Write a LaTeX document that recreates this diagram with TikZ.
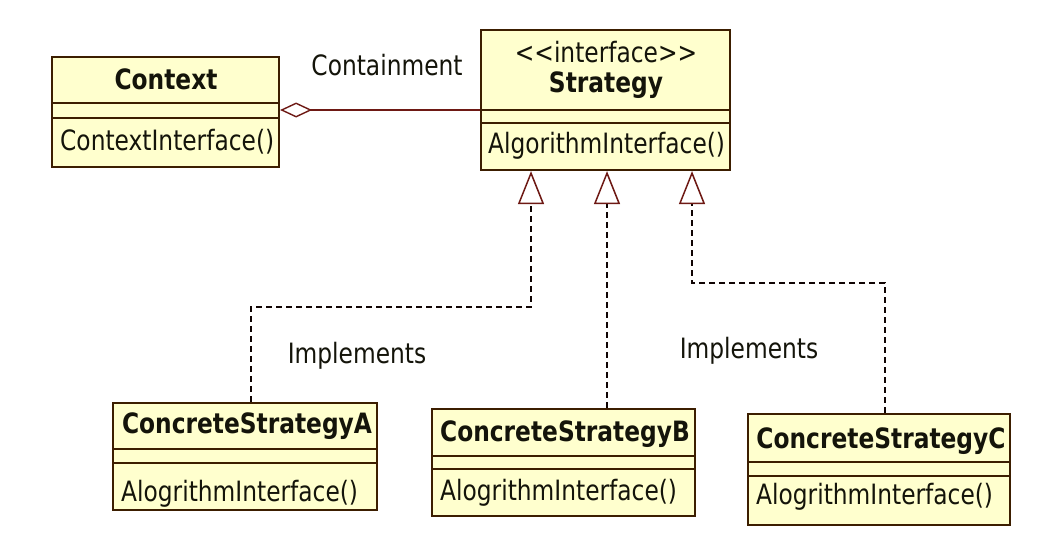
\documentclass[tikz,border=0pt]{standalone}
\usepackage{fontspec}
\setmainfont{DejaVu Sans}[FakeStretch=0.833]
\usetikzlibrary{arrows.meta}
\definecolor{boxfill}{RGB}{255,255,206}
\definecolor{boxline}{RGB}{60,30,0}
\definecolor{conn}{RGB}{110,25,20}
\definecolor{ink}{RGB}{20,20,10}
\begin{document}
\begin{tikzpicture}[x=1pt,y=-1pt,
  classbox/.style={draw=boxline, fill=boxfill, line width=2.2pt, inner sep=0pt},
  sep/.style={draw=boxline, line width=1.6pt},
  title/.style={inner sep=0pt, anchor=base, text=ink, font=\fontsize{28}{32}\selectfont\bfseries},
  body/.style={inner sep=0pt, anchor=base, text=ink, font=\fontsize{28}{32}\selectfont},
  method/.style={body, anchor=base west},
  impl/.style={draw=black!85!conn, line width=1.5pt, dash pattern=on 6pt off 4pt,
    -{Triangle[open, length=33pt, width=26pt, color=conn]}},
  agg/.style={draw=conn, line width=1.4pt, {Diamond[open, length=32pt, width=15pt]}-}]
\fill[white] (0,0) rectangle (1046,552);
\useasboundingbox (0,0) rectangle (1046,552);

% Context
\node[classbox, minimum width=227pt, minimum height=110pt] (ctx) at (165.5,112) {};
\draw[sep] (52,103) -- (279,103);
\draw[sep] (52,118) -- (279,118);
\node[title] (ctxT) at (166,89) {Context};
\node[method] (ctxM) at (60,150) {ContextInterface()};

% Strategy
\node[classbox, minimum width=249pt, minimum height=140pt] (S) at (605.5,100) {};
\draw[sep] (481,110) -- (730,110);
\draw[sep] (481,123) -- (730,123);
\node[body] (SI) at (606,62) {<{}<interface>{}>};
\node[title] (ST) at (606,92) {Strategy};
\node[method] (SM) at (488,153) {AlgorithmInterface()};

% Concrete A
\node[classbox, minimum width=264pt, minimum height=107pt] (A) at (245,456.5) {};
\draw[sep] (113,449) -- (377,449);
\draw[sep] (113,463) -- (377,463);
\node[title] (AT) at (247,433) {ConcreteStrategyA};
\node[method] (AM) at (121,501) {AlogrithmInterface()};

% Concrete B
\node[classbox, minimum width=263pt, minimum height=107pt] (B) at (563.5,462.5) {};
\draw[sep] (432,456) -- (695,456);
\draw[sep] (432,469) -- (695,469);
\node[title] (BT) at (565,441) {ConcreteStrategyB};
\node[method] (BM) at (440,500) {AlogrithmInterface()};

% Concrete C
\node[classbox, minimum width=262pt, minimum height=111pt] (C) at (879,469.5) {};
\draw[sep] (748,462) -- (1010,462);
\draw[sep] (748,476) -- (1010,476);
\node[title] (CT) at (881,448) {ConcreteStrategyC};
\node[method] (CM) at (756,504) {AlogrithmInterface()};

% Containment
\coordinate (ctxa) at ([yshift=2pt]ctx.east);
\draw[agg] (ctxa) -- (ctxa -| S.west);
\node[body] (contL) at (387,75) {Containment};

% Implements
\draw[impl] ([xshift=6pt]A.north) -- ++(0,-95) -| ([xshift=-74.5pt]S.south);
\draw[impl] ([xshift=43.5pt]B.north) -- ([xshift=1.5pt]S.south);
\draw[impl] ([xshift=6pt]C.north) -- ++(0,-130) -| ([xshift=86.5pt]S.south);
\node[body] (impL1) at (357,363) {Implements};
\node[body] (impL2) at (749,358) {Implements};
\end{tikzpicture}
\end{document}
